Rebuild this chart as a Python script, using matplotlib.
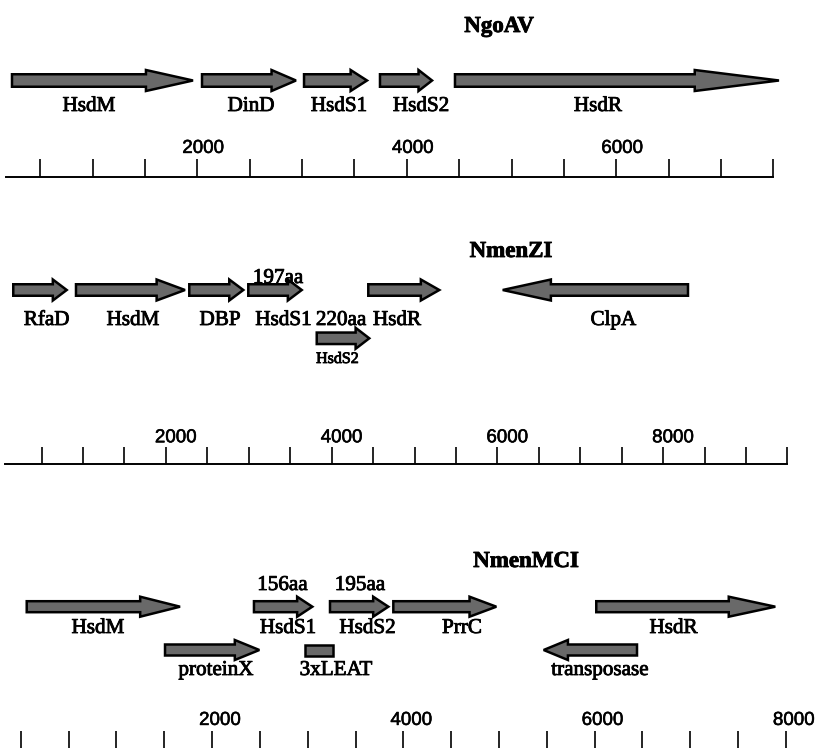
import matplotlib
matplotlib.use('Agg')
import matplotlib.pyplot as plt
import matplotlib.patheffects as pe
from matplotlib.patches import FancyArrow, Rectangle
from matplotlib.transforms import ScaledTranslation

# ---------------- data (bp) ----------------
# Panel 1: NgoAV
ngo_title = 'NgoAV'
ngo_genes = ['HsdM', 'DinD', 'HsdS1', 'HsdS2', 'HsdR']
ngo_start = [231, 2045, 3019, 3744, 4460]
ngo_end = [1959, 2942, 3620, 4241, 7553]
ngo_ticks = [500, 1000, 1500, 2000, 2500, 3000, 3500, 4000, 4500, 5000, 5500, 6000, 6500, 7000, 7500]
ngo_tick_labels = [2000, 4000, 6000]

# Panel 2: NmenZI
zi_title = 'NmenZI'
zi_genes = ['RfaD', 'HsdM', 'DBP', 'HsdS1', 'HsdS2', 'HsdR', 'ClpA']
zi_start = [158, 915, 2282, 2994, 3820, 4442, 8300]
zi_end = [803, 2230, 2934, 3639, 4454, 5299, 6064]
zi_row = [0, 0, 0, 0, 1, 0, 0]
zi_ticks = [500, 1000, 1500, 2000, 2500, 3000, 3500, 4000, 4500, 5000, 5500, 6000, 6500,
            7000, 7500, 8000, 8500, 9000, 9500]
zi_tick_labels = [2000, 4000, 6000, 8000]
zi_notes = ['197aa', '220aa']

# Panel 3: NmenMCI
mci_title = 'NmenMCI'
mci_genes = ['HsdM', 'HsdS1', 'HsdS2', 'PrrC', 'HsdR', 'proteinX', '3xLEAT', 'transposase']
mci_start = [62, 2438, 3233, 3895, 6017, 1508, 2971, 6443]
mci_end = [1665, 3048, 3843, 4972, 7889, 2494, 3261, 5467]
mci_row = [0, 0, 0, 0, 0, 1, 1, 1]
mci_box = [False, False, False, False, False, False, True, False]
mci_ticks = [0, 500, 1000, 1500, 2000, 2500, 3000, 3500, 4000, 4500, 5000, 5500, 6000,
             6500, 7000, 7500, 8000]
mci_tick_labels = [2000, 4000, 6000, 8000]
mci_notes = ['156aa', '195aa']

# ---------------- layout ----------------
W, H, DPI = 815, 748, 100
FILL = '#696969'
SERIF = 'Liberation Serif'
SANS = 'Liberation Sans'
LABEL_FS = 15.2
THICK = [pe.withStroke(linewidth=0.6, foreground='black')]

fig = plt.figure(figsize=(W / DPI, H / DPI), dpi=DPI)


def gene_axes(bp0_px, s):
    ax = fig.add_axes([0, 0, 1, 1])
    ax.set_xlim((0 - bp0_px) / s, (W - bp0_px) / s)
    ax.set_ylim(H, 0)
    ax.axis('off')
    return ax


def scale_axes(bp0_px, s, left_px, right_px, line_y, ticks, labels, tick_len, pad, dx):
    ax = fig.add_axes([left_px / W, 1 - line_y / H - 0.002, (right_px - left_px) / W, 0.002])
    ax.set_xlim((left_px - bp0_px) / s, (right_px - bp0_px) / s)
    for sp in ['left', 'right', 'bottom']:
        ax.spines[sp].set_visible(False)
    ax.spines['top'].set_linewidth(1.4)
    ax.patch.set_alpha(0)
    ax.xaxis.tick_top()
    ax.set_xticks(ticks)
    ax.set_xticklabels([str(t) if t in labels else '' for t in ticks])
    ax.set_yticks([])
    ax.tick_params(axis='x', direction='out', length=tick_len * 72 / DPI, width=1.2,
                   pad=pad, labelsize=13.5)
    off = ScaledTranslation(dx / DPI, 0, fig.dpi_scale_trans)
    for lab in ax.get_xticklabels():
        lab.set_fontfamily(SANS)
        lab.set_path_effects([pe.withStroke(linewidth=0.4, foreground='black')])
        lab.set_transform(lab.get_transform() + off)
    return ax


def draw_gene(ax, start, end, y, body, head, box=False):
    length = end - start
    if box:
        ax.add_patch(Rectangle((min(start, end), y - body / 2), abs(length), body,
                               fc=FILL, ec='black', lw=1.8))
    else:
        ax.add_patch(FancyArrow(start, y, length, 0, width=body, head_width=head,
                                head_length=abs(length) * 0.26, length_includes_head=True,
                                fc=FILL, ec='black', lw=1.8, joinstyle='miter'))


def label(ax, x, y, s, fs=LABEL_FS):
    ax.text(x, y, s, ha='center', va='baseline', fontfamily=SERIF, fontsize=fs,
            path_effects=THICK)


def title(x_px, y_px, s):
    fig.text(x_px / W, 1 - y_px / H, s, ha='center', va='baseline',
             fontfamily=SERIF, fontweight='bold', fontsize=16.5, path_effects=THICK)


# ---- Panel 1 ----
p1_bp0, p1_s = -12.2, 0.10475
ax1 = gene_axes(p1_bp0, p1_s)
for st, en in zip(ngo_start, ngo_end):
    draw_gene(ax1, st, en, 80.5, 12.5, 21)
p1_label_x = [966, 2513, 3353, 4136, 5825]
for name, lx in zip(ngo_genes, p1_label_x):
    label(ax1, lx, 111, name)
title(499, 32, ngo_title)
scale_axes(p1_bp0, p1_s, 6, p1_bp0 + 7500 * p1_s, 177, ngo_ticks, ngo_tick_labels,
           18, 1.5, 6)

# ---- Panel 2 ----
p2_bp0, p2_s = 0.17, 0.08287
ax2 = gene_axes(p2_bp0, p2_s)
row_y2 = [290, 338.3]
for st, en, r in zip(zi_start, zi_end, zi_row):
    draw_gene(ax2, st, en, row_y2[r], 11.5, 21)
p2_label_x = [561, 1603, 2653, 3419, None, 4789, 7401]
for name, lx, r in zip(zi_genes, p2_label_x, zi_row):
    if r == 0:
        label(ax2, lx, 325, name)
label(ax2, 4071, 363, zi_genes[4], fs=11.5)
label(ax2, 3353, 283, zi_notes[0])
label(ax2, 4113, 325, zi_notes[1])
title(511, 257, zi_title)
scale_axes(p2_bp0, p2_s, 5, p2_bp0 + 9500 * p2_s, 464, zi_ticks, zi_tick_labels,
           17, 0.5, 10)

# ---- Panel 3 ----
p3_bp0, p3_s = 20.8, 0.09564
ax3 = gene_axes(p3_bp0, p3_s)
row_y3 = [606.7, 650]
for st, en, r, b in zip(mci_start, mci_end, mci_row, mci_box):
    draw_gene(ax3, st, en, row_y3[r], 11, 20, box=b)
p3_label_x = [807, 2794, 3625, 4613, 6825, 2041, 3296, 6056]
row_label_y3 = [633, 675]
for name, lx, r in zip(mci_genes, p3_label_x, mci_row):
    label(ax3, lx, row_label_y3[r], name)
label(ax3, 2736, 590, mci_notes[0])
label(ax3, 3547, 590, mci_notes[1])
title(526, 567, mci_title)
scale_axes(p3_bp0, p3_s, 5, W + 20, 750, mci_ticks, mci_tick_labels,
           19, 1.5, 8)

fig.savefig('out.png', dpi=DPI)
